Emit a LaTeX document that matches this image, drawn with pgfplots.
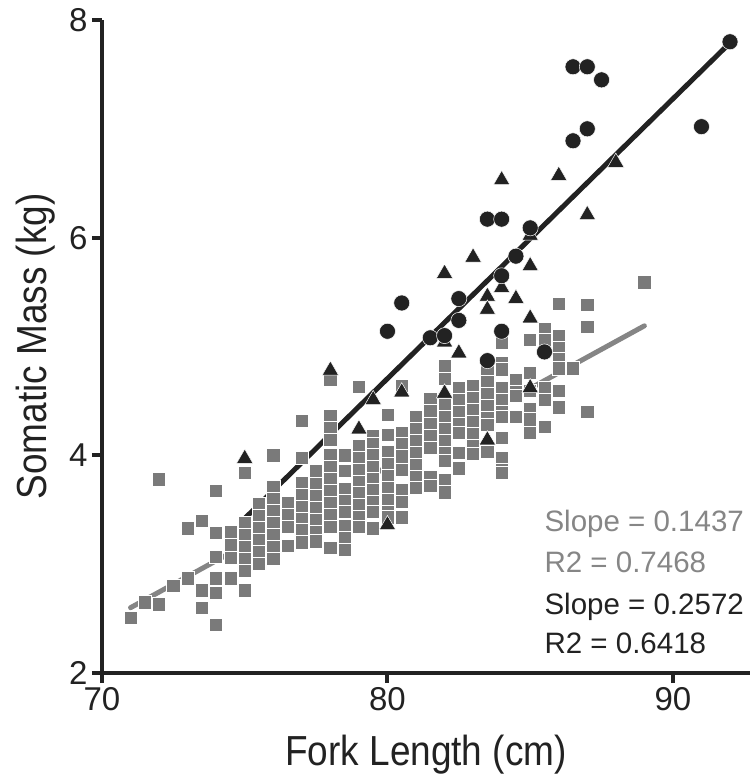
\documentclass[border=0pt]{standalone}
\usepackage{fontspec}
\setmainfont{Liberation Sans}
\usepackage{graphicx}
\usepackage{pgfplots}
\pgfplotsset{compat=1.18}
\definecolor{sq}{HTML}{7A7A7A}
\definecolor{blk}{HTML}{222222}
\definecolor{gtext}{HTML}{868686}
\definecolor{gline}{HTML}{858585}
\begin{document}
\begin{tikzpicture}
\begin{axis}[
  scale only axis, width=648bp, height=653bp,
  xmin=70, xmax=92.7, ymin=2, ymax=8,
  axis x line*=bottom, axis y line*=left,
  xtick={70,80,90}, ytick={2,4,6,8},
  minor tick num=0,
  tick align=outside, major tick length=10bp,
  every tick/.style={blk, line width=4bp},
  axis line style={blk, line width=4bp},
  /pgf/number format/assume math mode=true,
  ticklabel style={font=\fontsize{33bp}{33bp}\selectfont, text=blk},
  xticklabel style={yshift=-1bp},
  yticklabel style={xshift=-1bp},
  clip=false,
]
% gray squares
\addplot[only marks, mark=square*, mark size=6.6bp, mark options={fill=sq, draw=white, line width=0.7bp}] table {
x y
71 2.51
71.5 2.65
72 2.63
72 3.78
72.5 2.80
73 2.87
73 3.33
73.5 3.40
73.5 2.76
73.5 2.60
74 3.67
74 3.29
74 3.07
74 2.87
74 2.74
74 2.44
74.5 3.30
74.5 3.18
74.5 3.06
74.5 2.87
75 3.84
75 3.38
75 3.27
75 3.16
75 3.05
75 2.94
75 2.76
75.5 3.55
75.5 3.44
75.5 3.33
75.5 3.22
75.5 3.11
75.5 3.00
76 4.00
76 3.71
76 3.60
76 3.49
76 3.38
76 3.27
76 3.16
76 3.05
76.5 3.56
76.5 3.45
76.5 3.34
76.5 3.17
77 4.32
77 3.98
77 3.75
77 3.64
77 3.53
77 3.42
77 3.31
77 3.20
77.5 3.86
77.5 3.74
77.5 3.63
77.5 3.52
77.5 3.41
77.5 3.30
77.5 3.21
78 4.69
78 4.36
78 4.25
78 4.14
78 4.00
78 3.89
78 3.78
78 3.67
78 3.56
78 3.45
78 3.34
78 3.15
78.5 4.00
78.5 3.86
78.5 3.69
78.5 3.58
78.5 3.48
78.5 3.35
78.5 3.24
78.5 3.13
79 4.63
79 4.09
79 3.98
79 3.87
79 3.76
79 3.65
79 3.54
79 3.43
79 3.34
79.5 4.18
79.5 4.10
79.5 4.00
79.5 3.89
79.5 3.78
79.5 3.68
79.5 3.57
79.5 3.48
79.5 3.33
80 4.37
80 4.19
80 4.03
80 3.92
80 3.81
80 3.70
80 3.59
80 3.48
80 3.43
80.5 4.64
80.5 4.21
80.5 4.10
80.5 3.99
80.5 3.87
80.5 3.68
80.5 3.57
80.5 3.43
81 4.35
81 4.24
81 4.13
81 4.02
81 3.91
81 3.80
81 3.70
81.5 4.52
81.5 4.41
81.5 4.29
81.5 4.18
81.5 4.07
81.5 3.80
81.5 3.72
82 4.82
82 4.70
82 4.46
82 4.35
82 4.24
82 4.13
82 4.02
82 3.95
82 3.77
82 3.66
82.5 4.62
82.5 4.51
82.5 4.40
82.5 4.29
82.5 4.21
82.5 4.02
82.5 3.88
83 4.64
83 4.53
83 4.42
83 4.31
83 4.20
83 4.09
83 4.01
83.5 4.78
83.5 4.67
83.5 4.56
83.5 4.45
83.5 4.34
83.5 4.28
83.5 4.03
84 5.03
84 4.85
84 4.79
84 4.62
84 4.51
84 4.40
84 4.35
84 4.16
84 3.98
84 3.87
84 3.84
84.5 4.69
84.5 4.58
84.5 4.55
84.5 4.35
85 5.06
85 4.76
85 4.59
85 4.43
85 4.33
85 4.21
85.5 5.16
85.5 5.06
85.5 4.62
85.5 4.51
85.5 4.26
86 5.39
86 5.10
86 4.99
86 4.89
86 4.80
86 4.59
86 4.44
86.5 4.80
87 5.38
87 5.18
87 4.40
89 5.59
};
% gray regression line
\addplot[gline, line width=5bp, line cap=round] coordinates {(71,2.60) (89,5.19)};
% triangles
\addplot[only marks, mark=triangle*, mark size=9.5bp, mark options={fill=blk, draw=white, line width=0.5bp}] table {
x y
75 3.97
78 4.78
79 4.24
79.5 4.51
80 3.36
80.5 4.58
82 4.57
82 5.04
82 5.67
82.5 4.94
83 5.82
83.5 5.46
83.5 5.34
83.5 4.14
84 5.54
84 6.53
84.5 5.44
85 5.74
85 5.26
85 4.62
85 6.02
86 6.57
87 6.21
88 6.69
};
% circles
\addplot[only marks, mark=*, mark size=8bp, mark options={fill=blk, draw=white, line width=0.5bp}] table {
x y
80 5.14
80.5 5.40
81.5 5.08
82 5.10
82.5 5.44
82.5 5.24
83.5 4.87
83.5 6.17
84 6.17
84 5.65
84 5.14
84.5 5.83
85 6.09
85.5 4.95
86.5 7.57
86.5 6.89
87 7.57
87 7.00
87.5 7.45
91 7.02
92 7.80
};
% black regression line
\addplot[blk, line width=5bp, line cap=round] coordinates {(75,3.42) (92,7.79)};
\node[anchor=base west, text=gtext, font=\fontsize{29.5bp}{29.5bp}\selectfont] at (axis cs:85.38,3.296) {Slope = 0.1437};
\node[anchor=base west, text=gtext, font=\fontsize{29.5bp}{29.5bp}\selectfont] at (axis cs:85.38,2.919) {R2 = 0.7468};
\node[anchor=base west, text=blk, font=\fontsize{29.5bp}{29.5bp}\selectfont] at (axis cs:85.38,2.542) {Slope = 0.2572};
\node[anchor=base west, text=blk, font=\fontsize{29.5bp}{29.5bp}\selectfont] at (axis cs:85.38,2.175) {R2 = 0.6418};
\end{axis}
\node[anchor=base, font=\fontsize{42bp}{42bp}\selectfont, text=blk] at ([yshift=-92bp]current axis.south) {\scalebox{0.88}[1]{Fork Length (cm)}};
\node[anchor=base, rotate=90, font=\fontsize{42bp}{42bp}\selectfont, text=blk] at ([xshift=-56bp]current axis.west) {\scalebox{0.88}[1]{Somatic Mass (kg)}};
\pgfresetboundingbox
\path[use as bounding box] ([xshift=-102bp,yshift=-102bp]current axis.south west) rectangle ([yshift=20bp]current axis.north east);
\end{tikzpicture}
\end{document}
